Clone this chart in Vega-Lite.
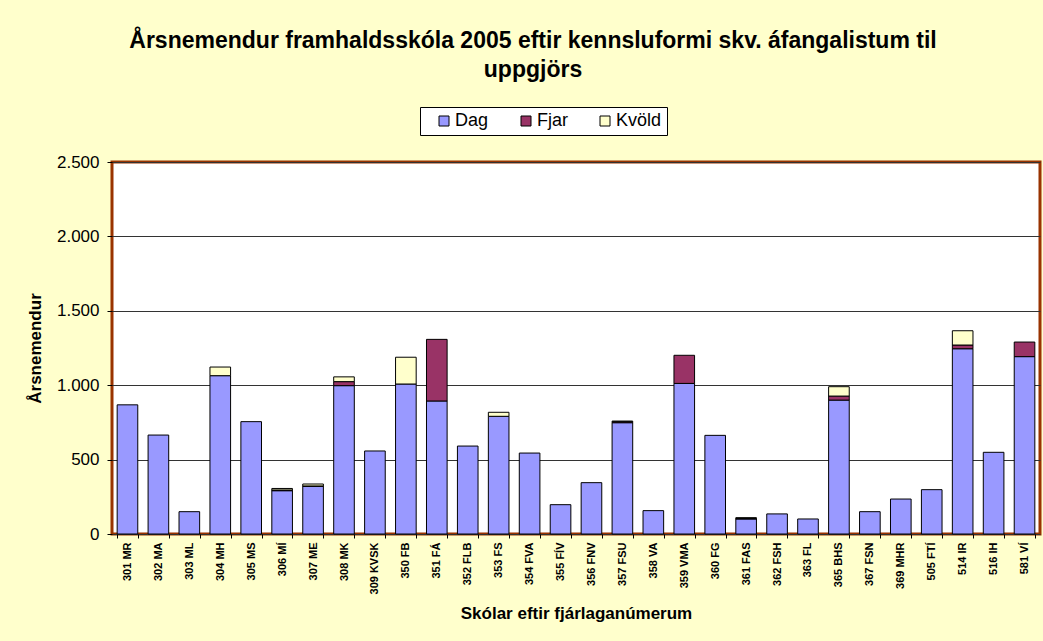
{
 "$schema": "https://vega.github.io/schema/vega-lite/v6.json",
 "autosize": {"type": "none"},
 "width": 928,
 "height": 372,
 "padding": {"left": 112, "top": 162, "right": 3, "bottom": 107},
 "background": "#FFFFCC",
 "config": {
  "font": "Liberation Sans",
  "view": {"fill": "white", "stroke": "#993300", "strokeWidth": 3}
 },
 "title": {
  "text": ["Årsnemendur framhaldsskóla 2005 eftir kennsluformi skv. áfangalistum til", "uppgjörs"],
  "fontSize": 23,
  "fontWeight": "bold",
  "color": "black",
  "anchor": "middle",
  "frame": "group",
  "dx": -43,
  "offset": 25,
  "lineHeight": 29
 },
 "data": {"values": [
  {"school": "301 MR", "type": "Dag", "value": 868},
  {"school": "302 MA", "type": "Dag", "value": 665},
  {"school": "303 ML", "type": "Dag", "value": 150},
  {"school": "304 MH", "type": "Dag", "value": 1064},
  {"school": "305 MS", "type": "Dag", "value": 755},
  {"school": "306 MÍ", "type": "Dag", "value": 291},
  {"school": "307 ME", "type": "Dag", "value": 320},
  {"school": "308 MK", "type": "Dag", "value": 997},
  {"school": "309 KVSK", "type": "Dag", "value": 558},
  {"school": "350 FB", "type": "Dag", "value": 1008},
  {"school": "351 FÁ", "type": "Dag", "value": 894},
  {"school": "352 FLB", "type": "Dag", "value": 591},
  {"school": "353 FS", "type": "Dag", "value": 791},
  {"school": "354 FVA", "type": "Dag", "value": 544},
  {"school": "355 FÍV", "type": "Dag", "value": 197},
  {"school": "356 FNV", "type": "Dag", "value": 345},
  {"school": "357 FSU", "type": "Dag", "value": 748},
  {"school": "358 VA", "type": "Dag", "value": 157},
  {"school": "359 VMA", "type": "Dag", "value": 1012},
  {"school": "360 FG", "type": "Dag", "value": 663},
  {"school": "361 FAS", "type": "Dag", "value": 101},
  {"school": "362 FSH", "type": "Dag", "value": 135},
  {"school": "363 FL", "type": "Dag", "value": 101},
  {"school": "365 BHS", "type": "Dag", "value": 900},
  {"school": "367 FSN", "type": "Dag", "value": 150},
  {"school": "369 MHR", "type": "Dag", "value": 235},
  {"school": "505 FTÍ", "type": "Dag", "value": 298},
  {"school": "514 IR", "type": "Dag", "value": 1245},
  {"school": "516 IH", "type": "Dag", "value": 549},
  {"school": "581 VÍ", "type": "Dag", "value": 1192},
  {"school": "306 MÍ", "type": "Fjar", "value": 5},
  {"school": "307 ME", "type": "Fjar", "value": 3},
  {"school": "308 MK", "type": "Fjar", "value": 27},
  {"school": "351 FÁ", "type": "Fjar", "value": 414},
  {"school": "357 FSU", "type": "Fjar", "value": 7},
  {"school": "359 VMA", "type": "Fjar", "value": 189},
  {"school": "361 FAS", "type": "Fjar", "value": 3},
  {"school": "365 BHS", "type": "Fjar", "value": 27},
  {"school": "514 IR", "type": "Fjar", "value": 25},
  {"school": "581 VÍ", "type": "Fjar", "value": 98},
  {"school": "304 MH", "type": "Kvöld", "value": 58},
  {"school": "306 MÍ", "type": "Kvöld", "value": 10},
  {"school": "307 ME", "type": "Kvöld", "value": 13},
  {"school": "308 MK", "type": "Kvöld", "value": 32},
  {"school": "350 FB", "type": "Kvöld", "value": 180},
  {"school": "353 FS", "type": "Kvöld", "value": 27},
  {"school": "357 FSU", "type": "Kvöld", "value": 4},
  {"school": "361 FAS", "type": "Kvöld", "value": 6},
  {"school": "365 BHS", "type": "Kvöld", "value": 63},
  {"school": "514 IR", "type": "Kvöld", "value": 96}
 ]},
 "mark": {"type": "bar", "stroke": "black", "strokeWidth": 1},
 "encoding": {
  "x": {
   "field": "school", "type": "nominal", "sort": null,
   "scale": {"paddingInner": 0.3333, "paddingOuter": 0.1667},
   "axis": {
    "title": "Skólar eftir fjárlaganúmerum",
    "labelAngle": -90, "labelFontSize": 11, "labelFontWeight": "bold", "labelColor": "black",
    "tickBand": "extent", "tickSize": 4, "tickColor": "black", "domain": false,
    "labelPadding": 4,
    "titleFontSize": 17, "titleFontWeight": "bold", "titlePadding": 12, "titleColor": "black"
   }
  },
  "y": {
   "field": "value", "type": "quantitative", "stack": "zero",
   "scale": {"domain": [0, 2500], "nice": false},
   "axis": {
    "values": [0, 500, 1000, 1500, 2000, 2500],
    "labelExpr": "replace(format(datum.value, ','), ',', '.')",
    "title": "Årsnemendur",
    "labelFontSize": 17, "labelColor": "black", "labelPadding": 8,
    "tickSize": 5, "tickColor": "black", "domain": false,
    "gridColor": "#333333", "gridOpacity": 1, "gridWidth": 1,
    "titleFontSize": 17, "titleFontWeight": "bold", "titlePadding": 12, "titleColor": "black"
   }
  },
  "order": {"field": "type", "sort": "ascending"},
  "color": {
   "field": "type", "type": "nominal",
   "scale": {"domain": ["Dag", "Fjar", "Kvöld"], "range": ["#9999FF", "#993366", "#FFFFCC"]},
   "legend": {
    "orient": "none", "legendX": 308, "legendY": -55, "direction": "horizontal",
    "title": null, "labelFontSize": 18, "labelColor": "black", "labelOffset": 2,
    "symbolType": "square", "symbolSize": 100, "symbolOffset": 10,
    "symbolStrokeColor": "black", "symbolStrokeWidth": 1,
    "strokeColor": "black", "fillColor": "white", "padding": 5, "columnPadding": 18
   }
  }
 }
}
